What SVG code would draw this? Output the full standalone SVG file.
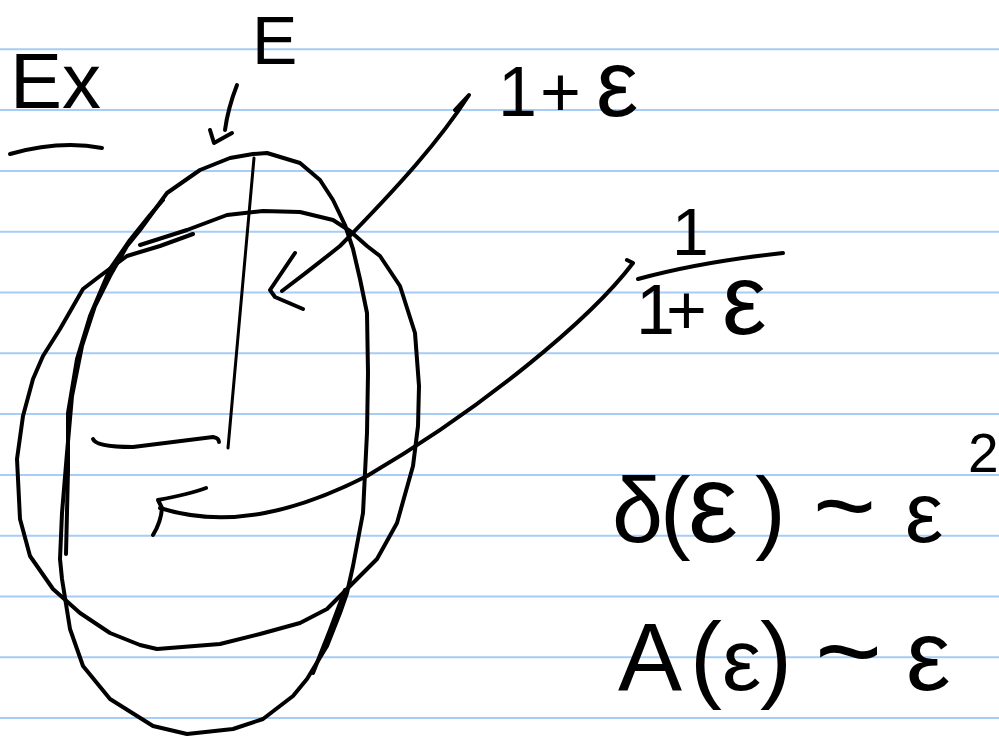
<svg xmlns="http://www.w3.org/2000/svg" width="999" height="738" viewBox="0 0 999 738">
<style>
.rule{stroke:#a5cdf5;stroke-width:2;fill:none}
.ink{stroke:#000;stroke-width:4;fill:none;stroke-linecap:round;stroke-linejoin:round}
.thin{stroke:#000;stroke-width:3;fill:none;stroke-linecap:round;stroke-linejoin:round}
.t{font-family:"Liberation Sans","DejaVu Sans",sans-serif;fill:#000}
</style>
<rect width="999" height="738" fill="#fff"/>
<g id="ruling">
<line class="rule" x1="0" y1="49.3" x2="999" y2="49.3"/>
<line class="rule" x1="0" y1="110.1" x2="999" y2="110.1"/>
<line class="rule" x1="0" y1="170.9" x2="999" y2="170.9"/>
<line class="rule" x1="0" y1="231.7" x2="999" y2="231.7"/>
<line class="rule" x1="0" y1="292.5" x2="999" y2="292.5"/>
<line class="rule" x1="0" y1="353.3" x2="999" y2="353.3"/>
<line class="rule" x1="0" y1="414.1" x2="999" y2="414.1"/>
<line class="rule" x1="0" y1="474.9" x2="999" y2="474.9"/>
<line class="rule" x1="0" y1="535.7" x2="999" y2="535.7"/>
<line class="rule" x1="0" y1="596.5" x2="999" y2="596.5"/>
<line class="rule" x1="0" y1="657.3" x2="999" y2="657.3"/>
<line class="rule" x1="0" y1="718.1" x2="999" y2="718.1"/>
</g>
<g id="ex-label">
<text class="t" x="10" y="108" font-size="78">Ex</text>
<path class="ink" d="M10,154 Q60,140 102,148"/>
</g>
<g id="e-label">
<text class="t" x="252" y="64" font-size="68">E</text>
<path class="ink" d="M237,85 Q228,108 225,130 M210,130 L214,143 L232,133"/>
</g>
<g id="ellipses">
<path class="ink" d="M140,245 L187,230 L227,215 L263,211 L300,212 L333,220 L350,231 L367,246 L380,256 L400,286 L415,333 L419,386 L418,426 L413,466 L397,523 L377,559 L347,589 L327,609 L300,623 L260,634 L220,644 L157,649 L140,645 L110,633 L80,613 L53,589 L30,556 L20,519 L17,459 L23,416 L33,379 L43,356 L60,329 L83,289 L100,276 L127,256 L160,246 L193,234"/>
<path class="ink" d="M253,154 L267,153 L300,163 L320,180 L333,200 L345,225 L353,249 L360,279 L367,313 L368,373 L367,433 L363,513 L353,566 L347,593 L340,613 L327,646 L307,679 L293,696 L263,719 L233,729 L187,734 L153,726 L110,699 L83,666 L70,629 L62,579 L60,559 L62,513 L67,453 L72,396 L82,346 L95,306 L110,276 L127,246 L140,230 L167,193 L200,170 L230,158 L253,154"/>
<path class="ink" d="M66,554 L68,470 L68,413 L77,359 L90,316 L110,269 L130,240 L150,215 L163,200"/>
<path class="ink" d="M313,673 L330,630 L345,590"/>
<path class="thin" d="M254,158 L228,448"/>
<path class="ink" d="M93,439 Q96,447 133,447 L213,437 Q219,438 219,442"/>
</g>
<g id="connectors">
<path class="ink" d="M455,110 L469,95 C440,140 400,185 340,246 Q310,270 282,291"/>
<path class="ink" d="M295,253 L270,290 L275,297 L303,309"/>
<path class="ink" d="M627,260 L633,263 C590,320 480,410 367,476 C300,510 230,530 160,508"/>
<path class="ink" d="M206,488 Q190,494 158,500 L162,508 Q161,522 153,535"/>
</g>
<g id="label-1pe">
<text class="t" font-size="70" y="116" x="498 540 596">1+<tspan font-size="95">ε</tspan></text>
</g>
<g id="label-frac">
<text class="t" font-size="66" x="672" y="255">1</text>
<path class="ink" d="M638,279 Q700,262 783,253"/>
<text class="t" font-size="70" y="334" x="636 666 722">1+<tspan font-size="100">ε</tspan></text>
</g>
<g id="label-delta">
<text class="t" font-size="92" y="542" x="612 660 688 755 787 813 877 905">δ(<tspan font-size="112">ε</tspan>) <tspan font-size="108">~</tspan><tspan font-size="40"> </tspan><tspan font-size="86">ε</tspan></text>
<text class="t" font-size="55" x="968" y="472">2</text>
</g>
<g id="label-area">
<text class="t" font-size="96" y="690" x="618 690 722 760 792 815 883 906">A(<tspan font-size="88">ε</tspan>)<tspan font-size="40"> </tspan><tspan font-size="115">~</tspan><tspan font-size="40"> </tspan><tspan font-size="100">ε</tspan></text>
</g>
</svg>
